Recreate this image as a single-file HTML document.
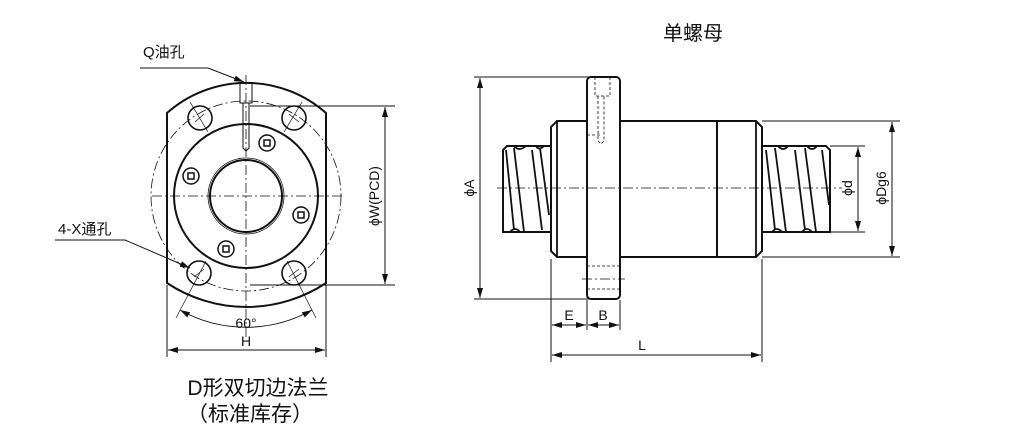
<!DOCTYPE html>
<html><head><meta charset="utf-8"><style>
html,body{margin:0;padding:0;background:#fff;}
svg{display:block;}
text{font-family:"Liberation Sans","Noto Sans CJK SC",sans-serif;fill:#111;}
</style></head><body>
<svg width="1010" height="440" viewBox="0 0 1010 440" xmlns="http://www.w3.org/2000/svg">
<defs>
<marker id="ar" viewBox="0 0 10 6" refX="10" refY="3" markerWidth="10" markerHeight="6" orient="auto-start-reverse" markerUnits="userSpaceOnUse"><path d="M0,0 L10,3 L0,6 z" fill="#111"/></marker>
</defs>
<g stroke="#111" fill="none">
<!-- LEFT VIEW -->
<path d="M167,113 A120,120 0 0 1 326,113 L326,283 A143.7,143.7 0 0 1 167,283 Z" stroke-width="2"/>
<circle cx="246" cy="196" r="95" stroke-width="0.8" stroke-dasharray="10,3,2,3"/>
<circle cx="246" cy="196" r="72" stroke-width="2"/>
<circle cx="246" cy="196" r="36" stroke-width="2"/>
<circle cx="246" cy="196" r="38" stroke-width="0.8"/>
<line x1="152" y1="196" x2="342" y2="196" stroke-width="0.8" stroke-dasharray="10,3,2,3"/>
<line x1="246" y1="75" x2="246" y2="340" stroke-width="0.8" stroke-dasharray="10,3,2,3"/>
<g stroke-width="1.6">
<circle cx="200" cy="118" r="12"/><circle cx="294" cy="118" r="12"/>
<circle cx="199" cy="273" r="12"/><circle cx="294" cy="273" r="12"/>
</g>
<g stroke-width="0.7">
<line x1="208" y1="132" x2="190" y2="102"/><line x1="284" y1="132" x2="302" y2="102"/>
<line x1="206" y1="261" x2="176" y2="318"/><line x1="287" y1="261" x2="316" y2="318"/>
<path d="M195,122 l9,-8 M289,114 l10,8 M194,277 l10,-8 M289,277 l10,-8"/>
</g>
<g stroke-width="1.5">
<circle cx="267" cy="143" r="8"/><rect x="264" y="140" width="6" height="6"/>
<circle cx="191" cy="176" r="8"/><rect x="188" y="173" width="6" height="6"/>
<circle cx="301" cy="215" r="8"/><rect x="298" y="212" width="6" height="6"/>
<circle cx="226" cy="249" r="8"/><rect x="223" y="246" width="6" height="6"/>
</g>
<g stroke-width="1">
<path d="M240,84 L240,103 L252,103 L252,84"/>
<path d="M243,103 L243,148 L246,151 L249,148 L249,103"/>
</g>
<path d="M180,310 A135,135 0 0 0 312,310" stroke-width="1" marker-start="url(#ar)" marker-end="url(#ar)"/>
<g stroke-width="1">
<line x1="167" y1="285" x2="167" y2="357"/><line x1="326" y1="285" x2="326" y2="357"/>
<line x1="168" y1="350" x2="325" y2="350" marker-start="url(#ar)" marker-end="url(#ar)"/>
<line x1="250" y1="106" x2="395" y2="106"/><line x1="250" y1="285" x2="395" y2="285"/>
<line x1="385" y1="107" x2="385" y2="284" marker-start="url(#ar)" marker-end="url(#ar)"/>
<polyline points="140,68 208,68 244,82" marker-end="url(#ar)"/>
<polyline points="55,240 125,240 190,268" marker-end="url(#ar)"/>
</g>
<!-- RIGHT VIEW -->
<g stroke-width="2">
<path d="M557,121 L756,121 L762,127 L762,251 L756,257 L557,257 L551,251 L551,127 Z" fill="#fff"/>
<line x1="717" y1="121" x2="717" y2="257"/>
<path d="M551,146 L507,146 L503,150 L503,232 L551,232"/>
<path d="M762,146 L826,146 L830,150 L830,232 L762,232"/>
<rect x="587" y="77" width="33" height="222" rx="4" fill="#fff"/>
</g>
<g stroke-width="1.8">
<path d="M506,150 L514,230 M514,148 L524,232 M532,150 L542,230 M540,148 L549,215"/>
<path d="M766,150 L775,230 M775,148 L786,232 M795,150 L805,230 M805,148 L816,232 M822,150 L829,205"/>
<path d="M514,146 q5,6 12,0 M536,146 q3,5 8,0 M510,232 q5,-6 10,0 M778,146 q5,6 10,0 M807,146 q5,6 10,0 M772,232 q5,-6 10,0 M802,232 q5,-6 10,0"/>
<line x1="557" y1="121" x2="557" y2="257"/><line x1="756" y1="121" x2="756" y2="257"/>
</g>
<g stroke-width="0.8" stroke-dasharray="3,2">
<path d="M595,77 L595,96 L610,96 L610,77 M598,96 L598,141 L601,144 L604,141 L604,96"/>
<path d="M587,266 L620,266 M587,289 L620,289 M587,135 L600,135"/>
</g>
<g stroke-width="0.8" stroke-dasharray="10,3,2,3">
<line x1="497" y1="188" x2="842" y2="188"/>
<line x1="582" y1="279" x2="625" y2="279"/>
</g>
<g stroke-width="1">
<line x1="474" y1="77" x2="590" y2="77"/><line x1="474" y1="299" x2="590" y2="299"/>
<line x1="480" y1="78" x2="480" y2="298" marker-start="url(#ar)" marker-end="url(#ar)"/>
<line x1="830" y1="146" x2="865" y2="146"/><line x1="830" y1="232" x2="865" y2="232"/>
<line x1="858" y1="147" x2="858" y2="231" marker-start="url(#ar)" marker-end="url(#ar)"/>
<line x1="762" y1="121" x2="900" y2="121"/><line x1="762" y1="257" x2="900" y2="257"/>
<line x1="892" y1="122" x2="892" y2="256" marker-start="url(#ar)" marker-end="url(#ar)"/>
<line x1="551" y1="259" x2="551" y2="362"/><line x1="587" y1="300" x2="587" y2="330"/>
<line x1="620" y1="300" x2="620" y2="330"/><line x1="762" y1="259" x2="762" y2="362"/>
<line x1="552" y1="325" x2="586" y2="325" marker-start="url(#ar)" marker-end="url(#ar)"/>
<line x1="588" y1="325" x2="619" y2="325" marker-start="url(#ar)" marker-end="url(#ar)"/>
<line x1="552" y1="355" x2="761" y2="355" marker-start="url(#ar)" marker-end="url(#ar)"/>
</g>
</g>
<!-- TEXT -->
<text x="143" y="57" font-size="15">Q油孔</text>
<text x="58" y="234" font-size="15">4-X通孔</text>
<text x="246" y="328" font-size="14" text-anchor="middle">60°</text>
<text x="246" y="346" font-size="14" text-anchor="middle">H</text>
<text transform="translate(379,196) rotate(-90)" font-size="14" text-anchor="middle">ϕW(PCD)</text>
<text x="693" y="40" font-size="20" text-anchor="middle">单螺母</text>
<text transform="translate(474,188) rotate(-90)" font-size="14" text-anchor="middle">ϕA</text>
<text transform="translate(852,188) rotate(-90)" font-size="14" text-anchor="middle">ϕd</text>
<text transform="translate(886,188) rotate(-90)" font-size="14" text-anchor="middle">ϕDg6</text>
<text x="569" y="320" font-size="14" text-anchor="middle">E</text>
<text x="603" y="320" font-size="14" text-anchor="middle">B</text>
<text x="642" y="350" font-size="14" text-anchor="middle">L</text>
<text x="258" y="395" font-size="21" text-anchor="middle">D形双切边法兰</text>
<text x="250" y="421" font-size="21" text-anchor="middle">（标准库存）</text>
</svg>
</body></html>
